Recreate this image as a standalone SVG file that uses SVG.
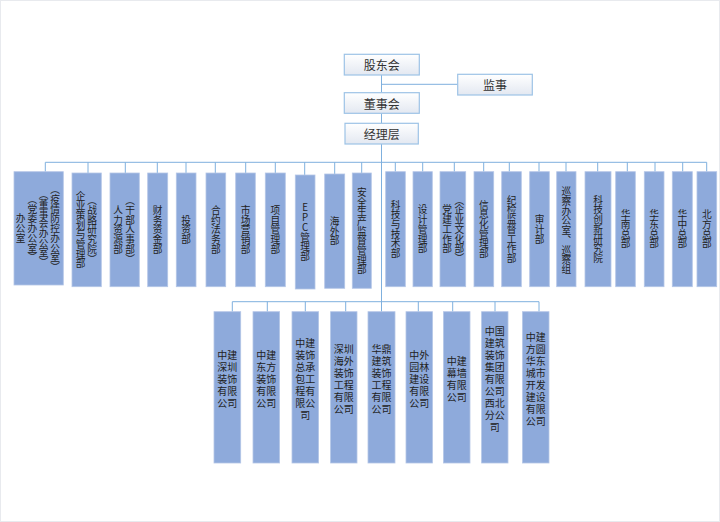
<svg xmlns="http://www.w3.org/2000/svg" width="720" height="522" viewBox="0 0 720 522">
<defs>
<linearGradient id="g" x1="0" y1="0" x2="0" y2="1">
<stop offset="0" stop-color="#ffffff"/>
<stop offset="1" stop-color="#e3e8f1"/>
</linearGradient>
<style>
.top{fill:url(#g);stroke:#9dc3e6;stroke-width:1.2}
.tt{font-family:"Noto Sans CJK SC","Noto Sans",sans-serif;font-size:12px;fill:#333;text-anchor:middle;dominant-baseline:central}
.b{fill:#8eaadb;stroke:#b4c6e7;stroke-width:0.8}
.v{font-family:"Noto Sans CJK SC","Noto Sans",sans-serif;font-size:9.7px;fill:#222;text-anchor:middle;writing-mode:vertical-rl}
.up{text-orientation:upright}
.h{font-family:"Liberation Sans","Noto Sans CJK SC",sans-serif;font-size:10px;fill:#222;text-anchor:middle;dominant-baseline:central}
.c{fill:none;stroke:#7fb0de;stroke-width:1}
</style>
</defs>
<rect x="0.5" y="0.5" width="719" height="521" fill="#ffffff" stroke="#e8eaee" stroke-width="1"/>

<g id="connectors">
<path class="c" d="M381.5 75V92.7M381.5 84.3H457.7M381.5 113.3V123.3M381.5 144V311.7"/>
<path class="c" d="M45.3 162.3H706.7M45.3 162.3V171.7M88 162.3V173M125.3 162.3V173M157.3 162.3V173M186 162.3V173M215.3 162.3V173M245.7 162.3V173M275.3 162.3V173M304.7 162.3V175M334.7 162.3V174M361.7 162.3V173M395.3 162.3V171.7M422.7 162.3V171.7M454.3 162.3V171.7M483.7 162.3V171.7M509.3 162.3V171.7M539 162.3V171.7M566 162.3V171.7M597.7 162.3V171.7M627.3 162.3V171.7M655 162.3V171.7M682.7 162.3V171.7M706.7 162.3V171.7"/>
<path class="c" d="M232.3 301.7H539M232.3 301.7V311.7M267.3 301.7V311.7M305.3 301.7V311.7M345.7 301.7V311.7M418.3 301.7V311.7M452.7 301.7V311.7M495 301.7V311.7M539 301.7V311.7"/>
</g>

<g id="gudonghui"><rect class="top" x="344.3" y="54.3" width="75" height="20.7"/><text class="tt" x="381.8" y="64.7">股东会</text></g>
<g id="jianshi"><rect class="top" x="457.7" y="74.3" width="74.6" height="20.7"/><text class="tt" x="495" y="84.7">监事</text></g>
<g id="dongshihui"><rect class="top" x="344.3" y="92.7" width="75" height="20.6"/><text class="tt" x="381.8" y="103">董事会</text></g>
<g id="jinglieceng"><rect class="top" x="345" y="123.3" width="73.3" height="20.7"/><text class="tt" x="381.7" y="133.7">经理层</text></g>

<g id="d1"><rect class="b" x="14" y="171.7" width="49.3" height="113.3"/>
<text class="v" x="20.7" y="228.5">办公室</text>
<text class="v" x="32.3" y="228.5">（党委办公室）</text>
<text class="v" x="43.6" y="228.5">（董事会办公室）</text>
<text class="v" x="55" y="228.5">（疫情防控办公室）</text></g>
<g id="d2"><rect class="b" x="72" y="173" width="29.3" height="113.7"/>
<text class="v" x="80.7" y="229.8">企业策划与管理部</text>
<text class="v" x="92" y="229.8">（战略研究院）</text></g>
<g id="d3"><rect class="b" x="110" y="173" width="29.3" height="113.7"/>
<text class="v" x="118" y="229.8">人力资源部</text>
<text class="v" x="130" y="229.8">（干部人事部）</text></g>
<g id="d4"><rect class="b" x="147.7" y="173" width="20" height="113.7"/><text class="v" x="157.7" y="229.8">财务资金部</text></g>
<g id="d5"><rect class="b" x="176.3" y="173" width="19.7" height="113.7"/><text class="v" x="186.2" y="229.8">投资部</text></g>
<g id="d6"><rect class="b" x="206" y="173" width="19.7" height="113.7"/><text class="v" x="215.8" y="229.8">合约法务部</text></g>
<g id="d7"><rect class="b" x="235.7" y="173" width="19.6" height="113.7"/><text class="v" x="245.5" y="229.8">市场营销部</text></g>
<g id="d8"><rect class="b" x="265.3" y="173" width="20" height="113.7"/><text class="v" x="275.3" y="229.8">项目管理部</text></g>
<g id="d9"><rect class="b" x="295.3" y="175" width="19.7" height="114"/><text class="v up" x="305.2" y="232">EPC管理部</text></g>
<g id="d10"><rect class="b" x="324.7" y="174" width="20" height="114.3"/><text class="v" x="334.7" y="231">海外部</text></g>
<g id="d11"><rect class="b" x="352.3" y="173" width="19" height="115.3"/><text class="v" x="361.8" y="231">安全生产监督管理部</text></g>
<g id="d12"><rect class="b" x="385.7" y="171.7" width="19.6" height="115"/><text class="v" x="395.5" y="229.2">科技与技术部</text></g>
<g id="d13"><rect class="b" x="413" y="171.7" width="19.3" height="115"/><text class="v" x="422.7" y="229.2">设计管理部</text></g>
<g id="d14"><rect class="b" x="440" y="171.7" width="25.7" height="115"/>
<text class="v" x="447" y="229.2">党建工作部</text>
<text class="v" x="459.3" y="229.2">（企业文化部）</text></g>
<g id="d15"><rect class="b" x="474" y="171.7" width="19.7" height="115"/><text class="v" x="483.8" y="229.2">信息化管理部</text></g>
<g id="d16"><rect class="b" x="501.7" y="171.7" width="19.6" height="115"/><text class="v" x="511.5" y="229.2">纪检监督工作部</text></g>
<g id="d17"><rect class="b" x="529.7" y="171.7" width="19.6" height="115"/><text class="v" x="539.5" y="229.2">审计部</text></g>
<g id="d18"><rect class="b" x="556.7" y="171.7" width="19.3" height="115"/><text class="v" x="566.3" y="230.5">巡察办公室、巡察组</text></g>
<g id="d19"><rect class="b" x="585" y="171.7" width="26" height="115"/><text class="v" x="598" y="229.2">科技创新研究院</text></g>
<g id="d20"><rect class="b" x="615.7" y="171.7" width="19.6" height="115"/><text class="v" x="625.5" y="229.2">华南总部</text></g>
<g id="d21"><rect class="b" x="644.3" y="171.7" width="19.7" height="115"/><text class="v" x="654.2" y="229.2">华东总部</text></g>
<g id="d22"><rect class="b" x="672.3" y="171.7" width="20" height="115"/><text class="v" x="682.3" y="229.2">华中总部</text></g>
<g id="d23"><rect class="b" x="697" y="171.7" width="19.7" height="115"/><text class="v" x="706.8" y="229.2">北方总部</text></g>

<g id="s1"><rect class="b" x="214" y="311.7" width="26.7" height="151.3"/>
<text class="h" x="227.3" y="355"><tspan x="227.3">中建</tspan><tspan x="227.3" dy="12">深圳</tspan><tspan x="227.3" dy="12">装饰</tspan><tspan x="227.3" dy="12">有限</tspan><tspan x="227.3" dy="12">公司</tspan></text></g>
<g id="s2"><rect class="b" x="253" y="311.7" width="26.6" height="151.3"/>
<text class="h" x="266.3" y="355"><tspan x="266.3">中建</tspan><tspan x="266.3" dy="12">东方</tspan><tspan x="266.3" dy="12">装饰</tspan><tspan x="266.3" dy="12">有限</tspan><tspan x="266.3" dy="12">公司</tspan></text></g>
<g id="s3"><rect class="b" x="292" y="311.7" width="26.6" height="151.3"/>
<text class="h" x="305.3" y="343"><tspan x="305.3">中建</tspan><tspan x="305.3" dy="12">装饰</tspan><tspan x="305.3" dy="12">总承</tspan><tspan x="305.3" dy="12">包工</tspan><tspan x="305.3" dy="12">程有</tspan><tspan x="305.3" dy="12">限公</tspan><tspan x="305.3" dy="12">司</tspan></text></g>
<g id="s4"><rect class="b" x="330.6" y="311.7" width="26.4" height="151.3"/>
<text class="h" x="343.8" y="349"><tspan x="343.8">深圳</tspan><tspan x="343.8" dy="12">海外</tspan><tspan x="343.8" dy="12">装饰</tspan><tspan x="343.8" dy="12">工程</tspan><tspan x="343.8" dy="12">有限</tspan><tspan x="343.8" dy="12">公司</tspan></text></g>
<g id="s5"><rect class="b" x="368" y="311.7" width="27" height="151.3"/>
<text class="h" x="381.5" y="349"><tspan x="381.5">华鼎</tspan><tspan x="381.5" dy="12">建筑</tspan><tspan x="381.5" dy="12">装饰</tspan><tspan x="381.5" dy="12">工程</tspan><tspan x="381.5" dy="12">有限</tspan><tspan x="381.5" dy="12">公司</tspan></text></g>
<g id="s6"><rect class="b" x="406" y="311.7" width="26.5" height="151.3"/>
<text class="h" x="419.2" y="355"><tspan x="419.2">中外</tspan><tspan x="419.2" dy="12">园林</tspan><tspan x="419.2" dy="12">建设</tspan><tspan x="419.2" dy="12">有限</tspan><tspan x="419.2" dy="12">公司</tspan></text></g>
<g id="s7"><rect class="b" x="443.5" y="311.7" width="26.5" height="151.3"/>
<text class="h" x="456.8" y="361"><tspan x="456.8">中建</tspan><tspan x="456.8" dy="12">幕墙</tspan><tspan x="456.8" dy="12">有限</tspan><tspan x="456.8" dy="12">公司</tspan></text></g>
<g id="s8"><rect class="b" x="481.6" y="311.7" width="26.4" height="151.3"/>
<text class="h" x="494.8" y="331"><tspan x="494.8">中国</tspan><tspan x="494.8" dy="12">建筑</tspan><tspan x="494.8" dy="12">装饰</tspan><tspan x="494.8" dy="12">集团</tspan><tspan x="494.8" dy="12">有限</tspan><tspan x="494.8" dy="12">公司</tspan><tspan x="494.8" dy="12">西北</tspan><tspan x="494.8" dy="12">分公</tspan><tspan x="494.8" dy="12">司</tspan></text></g>
<g id="s9"><rect class="b" x="522.5" y="311.7" width="26.5" height="151.3"/>
<text class="h" x="535.8" y="337"><tspan x="535.8">中建</tspan><tspan x="535.8" dy="12">方圆</tspan><tspan x="535.8" dy="12">华东</tspan><tspan x="535.8" dy="12">城市</tspan><tspan x="535.8" dy="12">开发</tspan><tspan x="535.8" dy="12">建设</tspan><tspan x="535.8" dy="12">有限</tspan><tspan x="535.8" dy="12">公司</tspan></text></g>
</svg>
